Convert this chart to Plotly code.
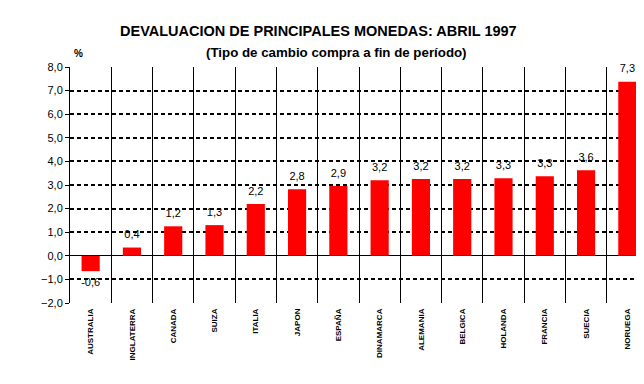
import plotly.graph_objects as go

paises = ["AUSTRALIA", "INGLATERRA", "CANADA", "SUIZA", "ITALIA", "JAPON", "ESPAÑA",
          "DINAMARCA", "ALEMANIA", "BELGICA", "HOLANDA", "FRANCIA", "SUECIA", "NORUEGA"]
devaluacion = [-0.65, 0.35, 1.25, 1.3, 2.2, 2.82, 2.96, 3.2, 3.25, 3.25, 3.29, 3.37, 3.63, 7.37]
etiquetas = ["-0,6", "0,4", "1,2", "1,3", "2,2", "2,8", "2,9", "3,2", "3,2", "3,2", "3,3", "3,3", "3,6", "7,3"]
tick_y = [-2, -1, 0, 1, 2, 3, 4, 5, 6, 7, 8]

fig = go.Figure()
fig.add_trace(go.Bar(
    x=paises, y=devaluacion,
    marker=dict(color="#ff0000", line=dict(width=0)),
    hoverinfo="x+y",
))
# value labels, placed by the axes above (or below, for negatives) each bar
fig.add_trace(go.Scatter(
    x=paises, y=devaluacion, text=etiquetas, mode="markers+text",
    textposition=["bottom center" if v < 0 else "top center" for v in devaluacion],
    marker=dict(size=9, color="rgba(0,0,0,0)"),
    textfont=dict(family="Liberation Sans, Arial", size=11, color="black"),
    cliponaxis=False, showlegend=False, hoverinfo="skip",
))
# invisible helper trace so the boundary-grid axis is drawn
fig.add_trace(go.Scatter(x=[], y=[], xaxis="x2", yaxis="y", mode="markers",
                         showlegend=False, hoverinfo="skip"))

n = len(paises)
fig.update_layout(
    width=644, height=384,
    margin=dict(l=62, r=4, t=59, b=89),
    paper_bgcolor="white", plot_bgcolor="white",
    bargap=0.56, showlegend=False, separators=", ",
    font=dict(family="Liberation Sans, Arial", size=11, color="black"),
    xaxis=dict(
        type="category", showgrid=False, range=[-0.5, n - 0.5],
        tickangle=-90, ticks="", showline=False,
        tickfont=dict(family="Liberation Sans, Arial", size=8, color="black", weight="bold"),
        ticklabelstandoff=3,
    ),
    xaxis2=dict(
        overlaying="x", anchor="y", type="linear", range=[-0.5, n - 0.5],
        tickmode="linear", tick0=-0.5, dtick=1,
        showgrid=True, gridcolor="black", gridwidth=1, showticklabels=False, ticks="",
        zeroline=False, showline=False,
    ),
    yaxis=dict(
        range=[-2, 8], tickvals=tick_y, tickformat=".1f",
        showgrid=True, gridcolor="black", gridwidth=2, griddash="4px,3px",
        zeroline=True, zerolinecolor="black", zerolinewidth=1,
        showline=True, linecolor="black", linewidth=1,
        ticks="outside", ticklen=4, tickcolor="black",
        tickfont=dict(family="Liberation Sans, Arial", size=11, color="black"),
    ),
    annotations=[
        dict(text="<b>DEVALUACION DE PRINCIPALES MONEDAS: ABRIL 1997</b>", xref="paper", yref="paper",
             x=(310 - 62) / 578, y=1 + (59 - 23) / 236, xanchor="center", yanchor="middle", showarrow=False,
             font=dict(family="Liberation Sans, Arial", size=14.5, color="black")),
        dict(text="<b>(Tipo de cambio compra a fin de período)</b>", xref="paper", yref="paper",
             x=(328 - 62) / 578, y=1 + (59 - 45) / 236, xanchor="center", yanchor="middle", showarrow=False,
             font=dict(family="Liberation Sans, Arial", size=13.3, color="black")),
        dict(text="<b>%</b>", xref="paper", yref="paper",
             x=(70 - 62) / 578, y=1 + (59 - 46) / 236, xanchor="center", yanchor="middle", showarrow=False,
             font=dict(family="Liberation Sans, Arial", size=10, color="black")),
    ],
)

fig.write_html("out.html")
